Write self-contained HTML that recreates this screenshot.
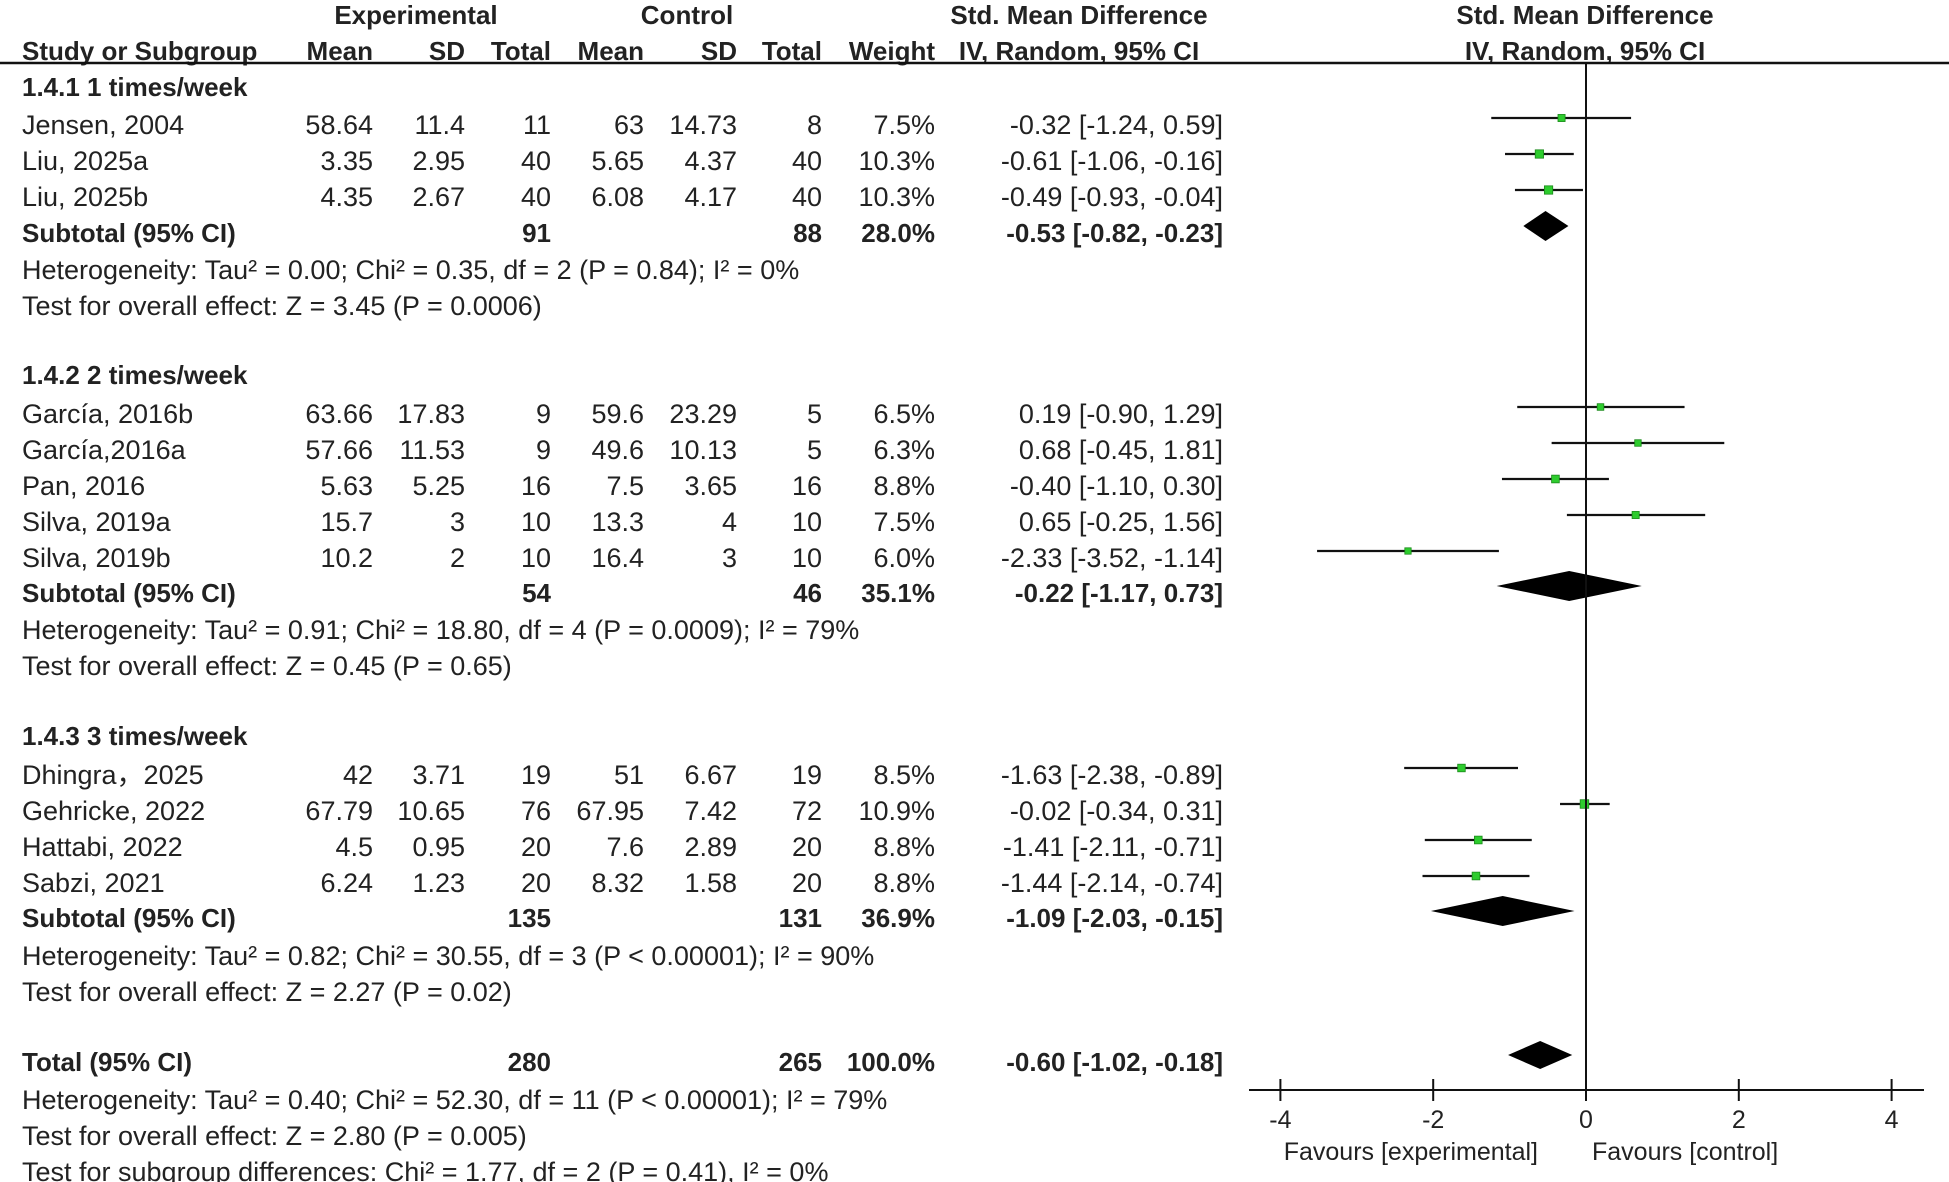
<!DOCTYPE html>
<html><head><meta charset="utf-8"><style>
html,body{margin:0;padding:0;background:#fff;}
svg{display:block;font-family:"Liberation Sans",sans-serif;}
text{font-size:27px;fill:#222;}
.b{font-weight:bold;font-size:26px;}
.b text{font-weight:bold;font-size:26px;}
.s{font-size:25px;}
</style></head><body>
<svg id="fp" width="1949" height="1182" viewBox="0 0 1949 1182">
<g id="hdr">
<text class="b" x="416" y="24" text-anchor="middle">Experimental</text>
<text class="b" x="687" y="24" text-anchor="middle">Control</text>
<text class="b" x="1079" y="24" text-anchor="middle">Std. Mean Difference</text>
<text class="b" x="1585" y="24" text-anchor="middle">Std. Mean Difference</text>
<text class="b" x="22" y="60">Study or Subgroup</text>
<text class="b" x="373" y="60" text-anchor="end">Mean</text>
<text class="b" x="465" y="60" text-anchor="end">SD</text>
<text class="b" x="551" y="60" text-anchor="end">Total</text>
<text class="b" x="644" y="60" text-anchor="end">Mean</text>
<text class="b" x="737" y="60" text-anchor="end">SD</text>
<text class="b" x="822" y="60" text-anchor="end">Total</text>
<text class="b" x="935" y="60" text-anchor="end">Weight</text>
<text class="b" x="1079" y="60" text-anchor="middle">IV, Random, 95% CI</text>
<text class="b" x="1585" y="60" text-anchor="middle">IV, Random, 95% CI</text>
<line x1="0" y1="63" x2="1949" y2="63" stroke="#111" stroke-width="2.5"/>
</g>
<g id="tbl"></g>
<g id="plot"></g>
</svg>
<script>
const studyNames=["Jensen, 2004","Liu, 2025a","Liu, 2025b","García, 2016b","García,2016a","Pan, 2016","Silva, 2019a","Silva, 2019b","Dhingra，2025","Gehricke, 2022","Hattabi, 2022","Sabzi, 2021"];
const studyRows=[118,154,190,407,443,479,515,551,768,804,840,876];
const expMean=["58.64","3.35","4.35","63.66","57.66","5.63","15.7","10.2","42","67.79","4.5","6.24"];
const expSD=["11.4","2.95","2.67","17.83","11.53","5.25","3","2","3.71","10.65","0.95","1.23"];
const expN=["11","40","40","9","9","16","10","10","19","76","20","20"];
const ctlMean=["63","5.65","6.08","59.6","49.6","7.5","13.3","16.4","51","67.95","7.6","8.32"];
const ctlSD=["14.73","4.37","4.17","23.29","10.13","3.65","4","3","6.67","7.42","2.89","1.58"];
const ctlN=["8","40","40","5","5","16","10","10","19","72","20","20"];
const weights=[7.5,10.3,10.3,6.5,6.3,8.8,7.5,6.0,8.5,10.9,8.8,8.8];
const smd=[-0.32,-0.61,-0.49,0.19,0.68,-0.40,0.65,-2.33,-1.63,-0.02,-1.41,-1.44];
const lo=[-1.24,-1.06,-0.93,-0.90,-0.45,-1.10,-0.25,-3.52,-2.38,-0.34,-2.11,-2.14];
const hi=[0.59,-0.16,-0.04,1.29,1.81,0.30,1.56,-1.14,-0.89,0.31,-0.71,-0.74];
const subLabels=["Subtotal (95% CI)","Subtotal (95% CI)","Subtotal (95% CI)","Total (95% CI)"];
const subRows=[226,586,911,1055];
const subExpN=["91","54","135","280"];
const subCtlN=["88","46","131","265"];
const subWeight=["28.0%","35.1%","36.9%","100.0%"];
const subEst=[-0.53,-0.22,-1.09,-0.60];
const subLo=[-0.82,-1.17,-2.03,-1.02];
const subHi=[-0.23,0.73,-0.15,-0.18];
const groupTitles=["1.4.1 1 times/week","1.4.2 2 times/week","1.4.3 3 times/week"];
const groupRows=[83,371,732];
const noteTexts=["Heterogeneity: Tau² = 0.00; Chi² = 0.35, df = 2 (P = 0.84); I² = 0%","Test for overall effect: Z = 3.45 (P = 0.0006)","Heterogeneity: Tau² = 0.91; Chi² = 18.80, df = 4 (P = 0.0009); I² = 79%","Test for overall effect: Z = 0.45 (P = 0.65)","Heterogeneity: Tau² = 0.82; Chi² = 30.55, df = 3 (P &lt; 0.00001); I² = 90%","Test for overall effect: Z = 2.27 (P = 0.02)","Heterogeneity: Tau² = 0.40; Chi² = 52.30, df = 11 (P &lt; 0.00001); I² = 79%","Test for overall effect: Z = 2.80 (P = 0.005)","Test for subgroup differences: Chi² = 1.77, df = 2 (P = 0.41), I² = 0%"];
const noteRows=[264,300,624,660,950,986,1094,1130,1166];
const ticks=[-4,-2,0,2,4];

const NS="http://www.w3.org/2000/svg";
const tbl=document.getElementById('tbl'),plot=document.getElementById('plot');
const X0=1586,U=76.4,AXY=1090,TB=16;
const xs=v=>X0+v*U;
function mk(p,tag,attrs,txt){const e=document.createElementNS(NS,tag);for(const k in attrs)e.setAttribute(k,attrs[k]);if(txt!==undefined)e.innerHTML=txt;p.appendChild(e);return e;}
const f=v=>(v<0?'-':'')+Math.abs(v).toFixed(2);
const ci=(e,l,h)=>f(e)+' ['+f(l)+', '+f(h)+']';
groupTitles.forEach((t,i)=>{const e=mk(tbl,'text',{x:22,y:groupRows[i]+13,class:'b'},t);

});
noteTexts.forEach((t,i)=>{const e=mk(tbl,'text',{x:22,y:noteRows[i]+15},t);

});
const cols=[[373,expMean],[465,expSD],[551,expN],[644,ctlMean],[737,ctlSD],[822,ctlN]];
studyNames.forEach((n,i)=>{const y=studyRows[i]+TB;
const g=mk(tbl,'g',{});


mk(g,'text',{x:22,y:y},n);
cols.forEach(c=>mk(g,'text',{x:c[0],y:y,'text-anchor':'end'},c[1][i]));
mk(g,'text',{x:935,y:y,'text-anchor':'end'},weights[i].toFixed(1)+'%');
mk(g,'text',{x:1223,y:y,'text-anchor':'end'},ci(smd[i],lo[i],hi[i]));
const yc=studyRows[i];
const l=mk(plot,'line',{x1:xs(lo[i]),x2:xs(hi[i]),y1:yc,y2:yc,stroke:'#111','stroke-width':2.2});


const s=Math.sqrt(weights[i])*2.6;
const r=mk(plot,'rect',{x:xs(smd[i])-s/2,y:yc-s/2,width:s,height:s,fill:'#2ecc2e',stroke:'#1a8a1a','stroke-width':0.8});

});
subLabels.forEach((t,i)=>{const y=subRows[i]+TB;
const g=mk(tbl,'g',{class:'b'});


mk(g,'text',{x:22,y:y},t);
mk(g,'text',{x:551,y:y,'text-anchor':'end'},subExpN[i]);
mk(g,'text',{x:822,y:y,'text-anchor':'end'},subCtlN[i]);
mk(g,'text',{x:935,y:y,'text-anchor':'end'},subWeight[i]);
mk(g,'text',{x:1223,y:y,'text-anchor':'end'},ci(subEst[i],subLo[i],subHi[i]));
const yc=subRows[i],h=i==3?14:15;
const d=mk(plot,'polygon',{points:`${xs(subLo[i])},${yc} ${xs(subEst[i])},${yc-h} ${xs(subHi[i])},${yc} ${xs(subEst[i])},${yc+h}`,fill:'#000'});

});
const zl=mk(plot,'line',{x1:X0,x2:X0,y1:63,y2:AXY,stroke:'#111','stroke-width':2});


const ax=mk(plot,'line',{x1:1249,x2:1924,y1:AXY,y2:AXY,stroke:'#111','stroke-width':2});


ticks.forEach(t=>{const g=mk(plot,'g',{});


mk(g,'line',{x1:xs(t),x2:xs(t),y1:AXY-11,y2:AXY+11,stroke:'#111','stroke-width':2});
mk(g,'text',{x:xs(t),y:AXY+38,'text-anchor':'middle',class:'s'},t<0?'-'+Math.abs(t):t);});
const fe=mk(plot,'text',{x:1538,y:1160,'text-anchor':'end',class:'s'},'Favours [experimental]');


const fc=mk(plot,'text',{x:1592,y:1160,class:'s'},'Favours [control]');


</script>
</body></html>
